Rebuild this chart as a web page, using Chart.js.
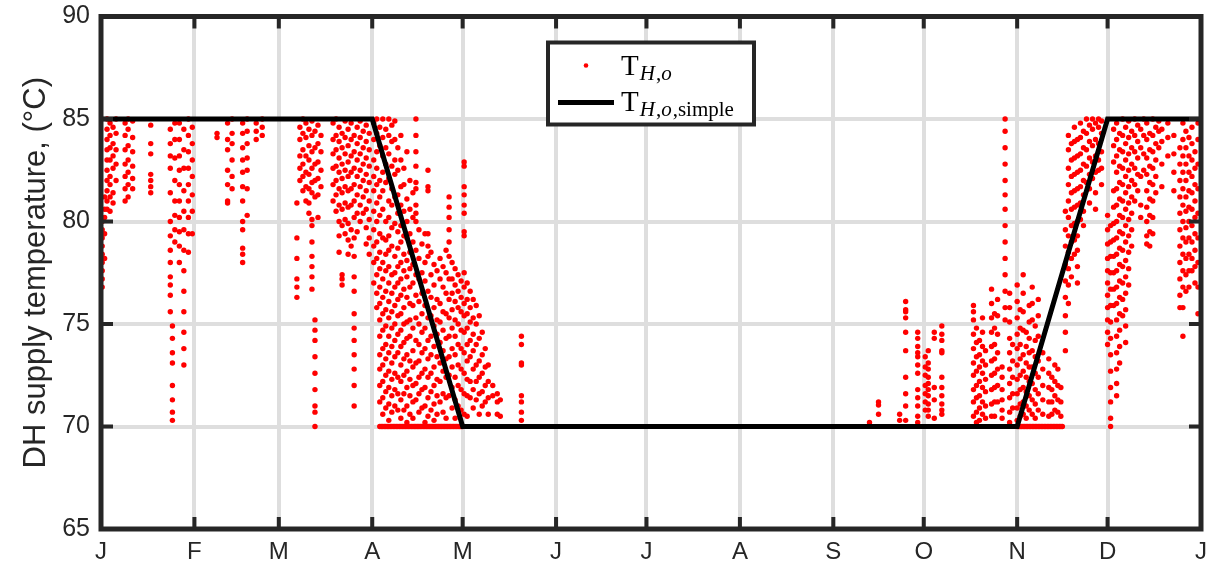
<!DOCTYPE html>
<html>
<head>
<meta charset="utf-8">
<script src="https://cdn.jsdelivr.net/npm/chart.js@4"></script>
<style>
  html, body { margin: 0; padding: 0; background: #fff; }
  #wrap { width: 1216px; height: 570px; }
</style>
</head>
<body>
<div id="wrap"><canvas id="chart" width="1216" height="570"></canvas></div>
<script>
// Month ticks (day of year) and their labels
const monthStarts = [0, 31, 59, 90, 120, 151, 181, 212, 243, 273, 304, 334, 365];
const monthLabels = ['J', 'F', 'M', 'A', 'M', 'J', 'J', 'A', 'S', 'O', 'N', 'D', 'J'];
const tempTicks = [65, 70, 75, 80, 85, 90];

// Simplified supply temperature curve: [day, °C]
const simpleDays = [0, 90, 120, 304, 334, 365];
const simpleTemps = [85, 85, 70, 70, 85, 85];

// Measured supply temperature, grouped as [day, temp, temp, ...]
const janRuns = [
  [0.4, 80, 79.6, 79.2, 78.8, 78.4, 78, 77.6, 77.2, 76.8],
  [1.2, 81.2, 80.6, 80.2, 79.4, 78.2],
  [2, 85, 84.5, 84, 83.5, 83, 82.5, 82, 81.5, 81, 80.6],
  [3, 84.8, 84.2, 83.6, 83, 82.2, 81.8, 81.2, 80.5],
  [4, 84.6, 83.8, 83.2, 82.6, 81.4, 80.9],
  [5, 85, 84.3, 83.5, 82.8, 82],
  [8, 84.8, 84.2, 83.5, 82.8, 82.2, 81.6, 81],
  [9, 85, 84.5, 83.7, 83, 82.4, 81.8, 81.2],
  [10.5, 84.9, 84.1, 83.4, 82.7, 82.1, 81.6],
  [16.5, 84.7, 83.8, 83.3, 82.3, 82, 81.7, 81.4],
  [23, 84.5, 83.8, 83.2, 82.6, 81.4, 80, 79.3, 78.6, 78, 77.3, 76.9, 76.4, 75.6],
  [23.7, 74.9, 74.3, 73.6, 73.1, 72, 71.3, 70.7, 70.3],
  [24.5, 84.8, 84, 83.1, 82, 81, 80.3, 79.6, 79],
  [26, 84.8, 84, 83.2, 82.5, 81.8, 81, 80.2, 79.5, 78.8, 78],
  [27.5, 84.5, 83.5, 82.6, 81.5, 80.5, 79.6, 78.6, 77.6, 76.6, 75.6, 74.6, 73.8, 73],
  [29, 85, 84.2, 83.4, 82.6, 81.8, 81, 80.2, 79.4, 78.5],
  [30.3, 84.6, 83.8, 83, 82.2, 81.3, 80.5, 79.4]
];

const febRuns = [
  [38.5, 84.3, 84.1],
  [42, 84.8, 84, 83.5, 82.5, 81.8, 81, 80.9],
  [43.5, 85, 84.3, 83.8, 83, 82.2, 81.6],
  [47, 84.8, 84.3, 83.6, 83, 82.4, 81.7, 81, 80, 79.6, 78.7, 78.4, 78],
  [48.5, 85, 84.4, 83.8, 83.1, 82.5, 81.6, 80.3],
  [51.5, 84.8, 84.4, 84],
  [53.5, 85, 84.6, 84.2]
];

const marRuns = [
  [65, 80.9, 79.2, 78.2, 77.2, 76.8, 76.3],
  [66, 84.6, 84, 83.2, 82.6, 82],
  [67, 85, 84.3, 83.5, 82.8, 82.2, 81.5],
  [68, 84.8, 84.1, 83.2, 82.4, 81.7, 81],
  [69, 84.5, 83.7, 83, 82.3, 81.6, 80.9, 80.4],
  [70, 84.9, 84.2, 83.4, 82.6, 81.9, 81.4, 80.1, 79.8, 79, 78.3, 77.8, 77.3, 76.7],
  [71, 84.4, 83.6, 82.8, 82, 81.2, 75.2, 74.7, 74.2, 73.4, 72.6, 71.8, 71, 70.7, 70],
  [72, 84.7, 83.8, 82.9, 82.1, 81.3, 80.2],
  [73, 84.2, 83.4, 82.5, 81.7],
  [77, 84.8, 84, 83.3, 82.6, 81.8, 81],
  [78, 85, 84.2, 83.5, 82.7, 82, 81.3, 80.5],
  [79, 84.6, 83.9, 83.1, 82.4, 81.6, 80.8, 80, 79.3, 78.5],
  [80, 84.3, 83.6, 82.8, 82.1, 81.4, 80.6, 79.8, 77.4, 77.2, 76.9],
  [81, 84.9, 84.1, 83.3, 82.5, 81.7, 80.9, 80.1, 79.4],
  [82, 84.5, 83.7, 82.9, 82.2, 81.5, 80.7, 79.9, 79.1, 78.4],
  [83, 84.8, 84, 83.2, 82.4, 81.6, 80.8, 79.6, 78.8],
  [84, 84.2, 83.4, 82.6, 81.8, 81, 80.2, 79.2, 78.3, 77.3, 76.6, 75.5, 74.8, 74.2, 73.5, 72.8, 72, 71],
  [85, 84.6, 83.8, 83, 82.2, 81.3, 80.4, 79.5],
  [86, 84.9, 84.1, 83.3, 82.5, 81.7, 80.8, 80],
  [87, 84.4, 83.6, 82.8, 82, 81.2, 80.4],
  [88, 84.7, 83.9, 83.1, 82.3, 81.5, 80.6, 79.7, 78.9],
  [89, 84.3, 83.5, 82.7, 81.9, 81, 80.1, 79.2, 78.4]
];

const aprRuns = [
  [90.5, 84.8, 84, 83, 82.2, 81.5, 80.5, 79.6, 78.8, 78, 77],
  [91.5, 85, 84.3, 83.4, 82.6, 81.8, 80.9, 80, 79, 78.2, 77.4, 76.5, 75.8],
  [92.5, 84.6, 83.7, 82, 81.2, 80.3, 79.4, 78.5, 77.7, 76.8, 76, 75.2, 74.4, 73.5, 72.8, 72, 71.2],
  [93.5, 85, 84.1, 83.2, 82.4, 81.5, 80.6, 79.2, 78, 77.2, 76.3, 75.5, 74.7, 73.8, 73, 72.2, 71.4, 70.6],
  [94.5, 84.5, 83.6, 82.8, 81.9, 80, 79.1, 78.4, 77.6, 76.6, 75.7, 74.9, 74, 73.3, 72.5, 71.7, 70.9],
  [95.5, 85, 84.2, 83.3, 82.1, 81, 80.2, 79.3, 78.6, 77.8, 77, 76.1, 75.3, 74.4, 73.6, 72.7, 71.9, 71.1, 70.3],
  [96.5, 84.7, 83.9, 82.7, 81.6, 80.8, 79.7, 78.8, 77.4, 76.5, 75.6, 74.8, 73.9, 73.1, 72.3, 71.5, 70.7],
  [97.5, 84.9, 84, 83, 82.3, 81.2, 79.9, 78.3, 77.5, 76.8, 75.9, 75, 74.2, 73.4, 72.6, 71.8, 71],
  [98.5, 83.6, 82.5, 81.3, 80.4, 79.5, 78.7, 77.8, 77, 76.2, 75.4, 74.5, 73.6, 72.4, 71.6, 70.8],
  [99.5, 84.2, 83, 81.7, 80.8, 79.8, 79, 78, 77.2, 76.4, 75.5, 74.7, 73.9, 73, 72.2, 71.3, 70.4],
  [100.5, 82.6, 81.8, 80.5, 79.3, 78.4, 77.6, 76.7, 75.8, 75, 74.1, 73.3, 72.5, 71.6, 70.8],
  [101.5, 83.4, 81.1, 80, 79.2, 78.1, 77.3, 76.3, 75.1, 74.3, 73.5, 72.7, 71.9, 71, 70.2],
  [102.5, 82, 80.6, 79.4, 78.5, 77.7, 76.8, 76, 75.2, 74.4, 73.2, 72.3, 71.5, 70.6],
  [103.5, 81.4, 80.2, 79, 77.9, 77, 75.9, 74.8, 73.7, 72.9, 72, 71.2, 70.4],
  [104.5, 85, 84.2, 83.4, 82.7, 81.9, 81.6, 80.8, 80.4, 80, 78.6, 77.4, 76.4, 75.3, 74.2, 73.1, 72.1, 71.3],
  [105.5, 79.6, 78.2, 77.2, 76.1, 75, 74, 73.2, 72.4, 71.6, 70.7],
  [106.5, 78.9, 77.5, 76.5, 75.5, 74.6, 73.6, 72.6, 71.8, 70.9],
  [107.5, 79.4, 78, 77.1, 75.9, 74.8, 73.8, 72.8, 71.9, 71, 70.2],
  [108.5, 82.5, 81.7, 81.5, 79.4, 78.8, 78.3, 76.6, 75.3, 74.2, 73.3, 72.4, 71.4, 70.5],
  [109.5, 78.5, 77.4, 76.3, 75.4, 74.4, 73.5, 72.6, 71.7, 70.8],
  [110.5, 77.9, 76.9, 75.8, 74.9, 73.9, 72.9, 72, 71.1, 70.3],
  [111.5, 77.6, 76.2, 75.2, 74.5, 73.4, 72.3, 71.5, 70.6],
  [112.5, 78.2, 77.2, 76, 75.1, 74.1, 73.1, 72.2, 71.2],
  [113.5, 77.8, 76.8, 75.6, 74.7, 73.7, 72.7, 71.6, 70.7],
  [114.5, 78.6, 77.5, 76.5, 75.5, 74.3, 73.3, 72.4, 71.4, 70.4],
  [115.5, 81.2, 80.7, 80.2, 79.6, 79, 78.3, 77.2, 76.2, 75.3, 74.4, 73.4, 72.5, 71.5],
  [116.5, 78, 77.2, 76.5, 75.7, 74.8, 73.8, 72.9, 71.9, 70.9],
  [117.5, 77.7, 76.9, 76.1, 75.2, 74.4, 73.5, 72.4, 71.3, 70.4],
  [118.5, 77.4, 76.6, 75.8, 75, 74, 73, 72, 71],
  [119.5, 77.1, 76.3, 75.6, 74.7, 73.8, 72.8, 71.8, 70.8],
  [120.5, 82.9, 82.7, 81.7, 81.3, 80.8, 80.4, 79.5, 79.3, 77.5, 76.8, 76, 75.4, 74.6, 73.6, 72.6, 71.6, 70.6],
  [121.5, 77, 76.2, 75.5, 74.8, 74, 73.2, 72.3, 71.5, 70.5],
  [122.5, 76.6, 75.8, 75.1, 74.2, 73.4, 72.2, 71.4],
  [123.5, 76.2, 75.3, 74.5, 73.7, 72.8, 71.8, 70.9],
  [124.5, 75.9, 75, 74, 73, 72.2, 71.3],
  [125.5, 75.4, 74.3, 73.2, 72.4, 71.6, 70.6],
  [126.5, 74.6, 73.5, 72.6, 71.7, 71],
  [127.5, 73.8, 72.9, 72, 71.2],
  [128.5, 73, 72.2, 71.4, 70.6],
  [130, 72, 71.5],
  [131.5, 71.6, 71.2, 70.6],
  [132.5, 71.3, 70.5],
  [139.5, 74.4, 74, 73.1, 73, 71.5, 71.2, 70.7, 70.3]
];

const octRuns = [
  [255, 70.2],
  [258, 71.2, 71.05, 70.6],
  [265, 70.6, 70.3],
  [267, 76.1, 75.7, 75.6, 75.3, 74.6, 73.7, 72.4, 71.6, 71, 70.3],
  [271, 74.6, 74.3, 73.9, 73.6, 73.4, 73, 72.6, 71.8, 71.4, 71, 70.5, 70.2],
  [273.5, 73.4, 72.9, 72.5, 72, 71.6, 71.2, 70.8],
  [274.5, 73.7, 73.1, 72.8, 72.4, 72.1, 71.8, 71.5, 71.1, 70.8, 70.5],
  [276.5, 74.6, 74.3, 71.9, 71.3, 70.4],
  [279, 74.9, 74.5, 74.2, 73.7, 73.6, 72.4, 71.9, 71.5, 71.1, 70.8, 70.6],
  [289.5, 75.9, 75.6, 75.2, 74.5, 73.8, 73.1, 72.5, 71.8, 71.2, 70.5],
  [290.5, 74.8, 74.1, 73.4, 72.7, 72, 71.4, 70.7, 70.2],
  [291.5, 74.2, 73.5, 72.9, 72.2, 71.5, 70.9, 70.3],
  [292.5, 75.3, 74.6, 73.9, 73.2, 72.6, 71.9, 71.2, 70.6],
  [293.5, 73.7, 73, 72.3, 71.7, 71, 70.4],
  [295.5, 76.7, 76, 75.3, 74.6, 73.9, 73.2, 72.5, 71.8, 71.1, 70.5],
  [296.5, 75.5, 74.8, 74, 73.3, 72.6, 71.9, 71.2, 70.5],
  [297.5, 76.2, 75.4, 74.5, 73.6, 72.8, 72, 71.2],
  [299, 72.9, 72.4, 71.8, 71.3, 70.8, 70.4],
  [300, 85, 84.4, 83.6, 82.8, 82, 81.3, 80.6, 79.8, 79, 78.2, 77.4, 76.6, 75.8, 75.2],
  [301.5, 76.5, 75.8, 75.1, 74.3, 73.6, 72.8, 72.1, 71.4, 70.7, 70.2],
  [302.5, 74, 73.2, 72.4, 71.6, 70.9]
];

const novRuns = [
  [304, 76.9, 76.1, 75.3, 74.5, 73.8, 73, 72.3, 71.6, 70.9, 70.3],
  [305, 75.7, 74.8, 74, 73.3, 72.5, 71.8, 71.1, 70.5],
  [306, 77.4, 76.5, 75.6, 74.7, 73.5, 72.7, 71.9, 71.2, 70.6],
  [307, 74.6, 73.9, 73.1, 72.4, 71.7, 71, 70.4],
  [308, 75.9, 75.1, 74.3, 73.6, 72.9, 72.2, 71.5, 70.8],
  [309, 76.8, 76, 75.2, 73.7, 72.9, 72.1, 71.3, 70.6],
  [310, 74.9, 74.2, 73.4, 72.6, 71.8, 71.1, 70.4],
  [311, 76.2, 75.4, 74.4, 73.2, 72.4, 71.6, 70.8],
  [312.5, 73.6, 72.8, 72, 71.3, 70.6],
  [314.5, 73.3, 72.6, 71.9, 71.2, 70.5],
  [315.5, 72.4, 71.8, 71.2, 70.6],
  [316.5, 73, 72.2, 71.5, 70.8],
  [317.5, 72.8, 72, 71.3, 70.7],
  [318.5, 71.9, 71.2, 70.5],
  [320, 80.5, 79.6, 78.8, 77.9, 77.1, 76.3, 75.4, 74.6, 73.7],
  [321, 84.2, 83.5, 82.6, 81.8, 81, 80.2, 79.3, 78.5, 77.7, 76.9, 76],
  [322, 83.8, 83, 82.2, 81.4, 80.6, 79.8, 79, 78.2, 77.3],
  [323, 84.6, 83.9, 83.1, 82.3, 81.5, 80.7, 79.9, 79.1, 78.4],
  [324, 84, 83.2, 82.4, 81.6, 80.8, 80, 79.3, 78.6, 77.8, 77],
  [325, 84.8, 84.1, 83.3, 82.5, 81.7, 80.9, 80.1],
  [326, 84.4, 83.6, 82.8, 82, 81.3, 80.5, 79.8],
  [327, 85, 84.3, 83.5, 82.7, 81.9],
  [328, 84.7, 83.9, 83.1, 82.3, 81.6, 80.9],
  [329, 85, 84.5, 83.7, 82.9, 82.1],
  [330, 84.8, 84, 83.2, 82.4, 81.4, 80.6],
  [331, 85, 84.6, 83.8, 83, 82.5],
  [332, 84.9, 84.3, 83.4, 82.6, 81.8]
];

const decRuns = [
  [334, 80.3, 79.6, 78.9, 78.2, 77.6, 77, 76.4, 75.8, 75.2, 74.6, 74],
  [335, 79.8, 79, 78.3, 77.5, 76.7, 75.9, 75.1, 74.3, 73.5, 72.7, 71.9, 71.2, 70.4, 70],
  [336, 84.5, 83.7, 82.9, 81.5, 80.7, 79.9, 79.1, 78.3, 77.5, 76.7, 75.9],
  [337, 84.8, 84, 83.2, 82.4, 81.6, 80.8, 80, 79.2, 78.4, 77.6, 76.8, 76, 75.2, 74.4, 73.6, 72.8, 72.1, 71.5],
  [338, 84.3, 83.5, 82.7, 81.9, 81.1, 80.3, 79.5, 78.7, 77.9, 77.1, 76.3, 75.5, 74.7, 73.9, 73.1],
  [339, 85, 84.2, 83.4, 82.6, 81.8, 81, 80.2, 79.4, 78.6, 77.8, 77, 76.2, 75.4],
  [340, 84.6, 83.8, 83, 82.2, 81.4, 80.6, 79.8, 79, 78.1, 77.3, 76.5, 75.7, 74.9, 74.1],
  [341, 84.9, 84.1, 83.3, 82.5, 81.7, 80.9, 80.1, 79.3, 78.5, 77.7, 76.9],
  [342, 84.4, 83.6, 82.8, 82, 81.2, 80.4, 79.6, 78.8],
  [343, 85, 84.2, 83.4, 82.6, 81.8, 81],
  [344, 84.7, 83.9, 83.1, 82.3, 81.5],
  [345, 84.5, 83.6, 82.2, 80.8, 80.2],
  [346, 85, 84.2, 83.3, 82.5],
  [347, 84.8, 84, 83.1, 82.3, 81.5, 80.7, 80, 79.3, 78.9],
  [348, 84.3, 83.5, 82.7, 81.9, 81.1, 80.3, 79.5, 78.8],
  [349, 85, 84.2, 83.4, 82.6, 81.8, 81, 80.2, 79.4],
  [350, 84.6, 83.8, 83, 82.2, 81.4],
  [351, 84.9, 84.4, 83.6],
  [352, 84.5, 83.9, 82.8, 81.7],
  [354, 84.8, 84.1, 83.2],
  [356, 84.2, 83.3, 82.4, 81.5],
  [358, 83.6, 82.8, 82, 81.2, 80.4, 79.6, 78.8, 78, 77.2, 76.4, 75.8],
  [359, 84.8, 84, 83.2, 82.4, 81.6, 80.8, 80, 79.2, 78.4, 77.6, 76.8, 75.8, 74.4],
  [360, 84.4, 83.6, 82.8, 82, 81.2, 80.5, 79.7, 79, 78.2, 77.4, 76.6],
  [361, 84.1, 83.2, 82.4, 81.5, 80.7, 80, 79.2, 78.4, 77.6, 76.8],
  [362, 84.6, 83.8, 83, 82.2, 81.4, 80.6, 79.8, 79, 78.2, 77.6],
  [363, 83.4, 82.6, 81.8, 81, 80.2, 79.4, 78.6, 77.8, 77],
  [364, 84.8, 84, 82.8, 81.6, 80.4, 79.2, 78, 76.8, 75.5]
];

// Hours sitting on the 70 °C floor
const floorTemp = 70;
const springFloorDays = [92.5, 93, 93.5, 94, 94.5, 95, 95.5, 96, 96.5, 97, 97.5, 98, 98.5, 99, 99.5,
  100, 100.5, 101, 101.5, 102, 102.5, 103, 103.5, 104, 104.5, 105, 105.5, 106, 106.5, 107, 107.5,
  108, 108.5, 109, 109.5, 110, 110.5, 111, 111.5, 112, 112.5, 113, 113.5, 114, 114.5, 115, 115.5,
  116, 116.5, 117, 117.5, 118, 118.5, 119, 119.5, 120];
const autumnFloorDays = [304, 304.5, 305, 305.5, 306, 306.5, 307, 307.5, 308, 308.5, 309, 309.5,
  310, 310.5, 311, 311.5, 312, 312.5, 313, 313.5, 314, 314.5, 315, 315.5, 316, 316.5, 317, 317.5,
  318, 318.5, 319];

const runs = [].concat(janRuns, febRuns, marRuns, aprRuns, octRuns, novRuns, decRuns);
const measured = runs.flatMap(([day, ...temps]) => temps.map(t => ({ x: day, y: t })))
  .concat(springFloorDays.concat(autumnFloorDays).map(d => ({ x: d, y: floorTemp })));
const simple = simpleDays.map((d, i) => ({ x: d, y: simpleTemps[i] }));

const axisColor = '#262626';
const sansFont = '"Liberation Sans", Arial, sans-serif';
const serifFont = '"Liberation Serif", "DejaVu Serif", serif';

// MATLAB-like box with inward ticks on all four sides
const axesBox = {
  id: 'axesBox',
  afterDatasetsDraw(chart) {
    const { ctx, chartArea: a, scales: { x, y } } = chart;
    const len = 12;
    ctx.save();
    ctx.strokeStyle = axisColor;
    ctx.lineWidth = 4;
    ctx.beginPath();
    monthStarts.forEach(v => {
      const px = x.getPixelForValue(v);
      ctx.moveTo(px, a.bottom); ctx.lineTo(px, a.bottom - len);
      ctx.moveTo(px, a.top); ctx.lineTo(px, a.top + len);
    });
    tempTicks.forEach(v => {
      const py = y.getPixelForValue(v);
      ctx.moveTo(a.left, py); ctx.lineTo(a.left + len, py);
      ctx.moveTo(a.right, py); ctx.lineTo(a.right - len, py);
    });
    ctx.stroke();
    ctx.lineWidth = 5;
    ctx.strokeRect(a.left, a.top, a.right - a.left, a.bottom - a.top);
    ctx.restore();
  }
};

// draw "T" followed by a subscript made of mixed italic/upright pieces
function drawSymbol(ctx, x, y, sub) {
  ctx.font = '29px ' + serifFont;
  ctx.fillText('T', x, y);
  let cx = x + ctx.measureText('T').width + 1;
  sub.forEach(([txt, italic]) => {
    ctx.font = (italic ? 'italic ' : '') + '21px ' + serifFont;
    ctx.fillText(txt, cx, y + 5);
    cx += ctx.measureText(txt).width + (italic ? 1 : 0);
  });
}

const mathLegend = {
  id: 'mathLegend',
  afterDraw(chart) {
    const { ctx, chartArea: a } = chart;
    const cx = (a.left + a.right) / 2;
    const top = a.top + 26;
    ctx.save();
    ctx.fillStyle = '#fff';
    ctx.fillRect(cx - 103, top, 206, 82);
    ctx.strokeStyle = axisColor;
    ctx.lineWidth = 4;
    ctx.strokeRect(cx - 103, top, 206, 82);

    ctx.fillStyle = '#ff0000';
    ctx.beginPath();
    ctx.arc(cx - 65, top + 23, 2.3, 0, Math.PI * 2);
    ctx.fill();

    ctx.strokeStyle = '#000';
    ctx.lineWidth = 5;
    ctx.beginPath();
    ctx.moveTo(cx - 93, top + 60);
    ctx.lineTo(cx - 37, top + 60);
    ctx.stroke();

    ctx.fillStyle = '#000';
    ctx.textBaseline = 'alphabetic';
    drawSymbol(ctx, cx - 30, top + 32, [['H', true], [',', false], ['o', true]]);
    drawSymbol(ctx, cx - 30, top + 68, [['H', true], [',', false], ['o', true], [',simple', false]]);
    ctx.restore();
  }
};

new Chart(document.getElementById('chart'), {
  type: 'scatter',
  data: {
    datasets: [
      {
        label: 'T_H,o',
        data: measured,
        backgroundColor: '#ff0000',
        borderWidth: 0,
        pointRadius: 2.7,
        order: 1
      },
      {
        label: 'T_H,o,simple',
        data: simple,
        showLine: true,
        borderColor: '#000000',
        borderWidth: 5,
        pointRadius: 0,
        fill: false,
        order: 0
      }
    ]
  },
  options: {
    responsive: false,
    animation: false,
    devicePixelRatio: 1,
    layout: { padding: { top: 16.5, right: 13.5, left: 0, bottom: 0 } },
    plugins: { legend: { display: false }, tooltip: { enabled: false } },
    scales: {
      x: {
        type: 'linear',
        min: 0,
        max: 365,
        afterBuildTicks: s => { s.ticks = monthStarts.map(v => ({ value: v })); },
        afterFit: s => { s.height = 41; },
        ticks: {
          callback: (v, i) => monthLabels[i],
          font: { family: '"Liberation Sans Narrow", "Liberation Sans", Arial', size: 24 },
          color: axisColor,
          padding: 9,
          maxRotation: 0,
          autoSkip: false
        },
        grid: { color: '#dedede', lineWidth: 4, drawTicks: false },
        border: { display: false }
      },
      y: {
        min: 65,
        max: 90,
        afterBuildTicks: s => { s.ticks = tempTicks.map(v => ({ value: v })); },
        afterFit: s => { s.width = 101; s.paddingTop = 0; s.paddingBottom = 0; },
        ticks: {
          font: { family: sansFont, size: 25 },
          color: axisColor,
          padding: 11
        },
        title: {
          display: true,
          text: 'DH supply temperature, (°C)',
          font: { family: sansFont, size: 31 },
          color: axisColor,
          padding: { top: 18, bottom: 0 }
        },
        grid: { color: '#dedede', lineWidth: 4, drawTicks: false },
        border: { display: false }
      }
    }
  },
  plugins: [axesBox, mathLegend]
});
</script>
</body>
</html>
